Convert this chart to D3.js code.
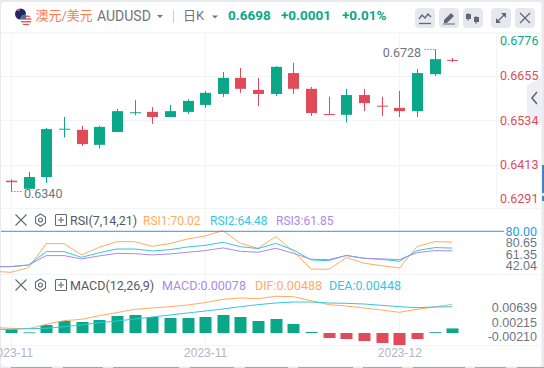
<!DOCTYPE html>
<html>
<head>
<meta charset="utf-8">
<script src="https://cdn.jsdelivr.net/npm/d3@7"></script>
<style>
  body { margin: 0; background: #fff; }
  svg { display: block; font-family: Roboto, "Noto Sans CJK SC", sans-serif; }
</style>
</head>
<body>
<div id="chart"></div>
<script>
const opens  = [0.6369,0.6347,0.6379,0.6509,0.6508,0.6467,0.6502,0.6555,0.6557,0.6543,0.6557,0.6576,0.6606,0.6650,0.6617,0.6606,0.6663,0.6620,0.6551,0.6549,0.6603,0.6574,0.6568,0.6559,0.6660,0.6699];
const highs  = [0.6373,0.6393,0.6513,0.6543,0.6519,0.6519,0.6565,0.6589,0.6570,0.6576,0.6592,0.6614,0.6666,0.6677,0.6650,0.6682,0.6691,0.6625,0.6598,0.6620,0.6620,0.6598,0.6614,0.6674,0.6728,0.6704];
const lows   = [0.6340,0.6345,0.6363,0.6487,0.6464,0.6457,0.6502,0.6548,0.6524,0.6543,0.6551,0.6568,0.6598,0.6609,0.6573,0.6600,0.6606,0.6546,0.6549,0.6528,0.6559,0.6546,0.6543,0.6543,0.6655,0.6693];
const closes = [0.6365,0.6379,0.6510,0.6511,0.6469,0.6516,0.6559,0.6556,0.6543,0.6559,0.6587,0.6609,0.6650,0.6620,0.6606,0.6680,0.6620,0.6554,0.6549,0.6603,0.6581,0.6572,0.6559,0.6663,0.6701,0.6698];

// line series start one candle left of the visible ones
const rsi1 = [43.0,42.04,46.4,68.6,68.6,58.1,65.2,70.4,70.4,66.1,68.6,72.9,75.7,80.65,68.9,64.3,75.1,61.2,45.1,44.8,55.6,50.4,48.2,46.0,65.8,70.4,70.02];
const rsi2 = [47.3,47.3,48.8,61.2,61.2,55.9,60.2,63.6,63.6,61.8,63.0,65.5,67.0,69.8,65.8,64.0,68.9,62.7,53.5,52.8,57.8,55.0,54.1,52.2,62.1,64.9,64.48];
const rsi3 = [47.3,47.3,48.8,57.5,57.5,54.4,57.2,59.6,59.3,58.1,59.0,60.6,62.1,64.6,61.5,60.6,64.3,59.6,54.1,53.8,57.5,55.0,54.4,53.8,60.2,62.1,61.85];
const dif  = [0.00096,0.00079,0.00074,0.00147,0.0021,0.00232,0.00295,0.00346,0.00403,0.00425,0.00448,0.00476,0.00516,0.00573,0.00595,0.00584,0.00624,0.00618,0.0055,0.00482,0.00459,0.00425,0.00391,0.00352,0.00403,0.00442,0.00488];
const dea  = [0.00062,0.00062,0.00074,0.00079,0.00108,0.00136,0.00176,0.00204,0.00238,0.00272,0.00306,0.0034,0.00374,0.00408,0.00448,0.00482,0.0051,0.00527,0.00527,0.0051,0.00505,0.00493,0.00471,0.00448,0.00431,0.00442,0.00448];
const macd = [0.00062,0.0001,0.00136,0.00204,0.00187,0.00221,0.00289,0.00306,0.00272,0.00255,0.00255,0.00272,0.00306,0.00272,0.00204,0.00238,0.00153,0.00017,-0.00085,-0.00102,-0.00136,-0.0017,-0.00204,-0.00102,0.00014,0.00078];

const priceTicks = [0.6776,0.6655,0.6534,0.6413,0.6291];
const rsiTicks = [80.65,61.35,42.04];
const macdTicks = [0.00639,0.00215,-0.0021];
const dateIdx = [0,11,22];
const dateLabels = ['2023-11','2023-11','2023-12'];

const green = '#0aa889', red = '#e04b5a', gridCol = '#f3f4f7', grey = '#6f7480';
const orange = '#ffab62', cyan = '#35c6e2', purple = '#a98be9', iconCol = '#626774';
const axisFont = 12.5;

const svg = d3.select('#chart').append('svg').attr('width', 544).attr('height', 368);

svg.append('rect').attr('width', 544).attr('height', 368).attr('fill', '#e8eaee');
svg.append('rect').attr('x', 1).attr('y', 2).attr('width', 540.5).attr('height', 364.5).attr('rx', 3).attr('fill', '#fff');
svg.append('rect').attr('x', 1).attr('y', 32).attr('width', 540.5).attr('height', 2).attr('fill', '#f6f7f9');

// scales
const x = d3.scaleLinear().domain([0, 25]).range([11, 452.3]);
const y = d3.scaleLinear().domain([0.6655, 0.6534]).range([76, 120.3]);
const yRsi = d3.scaleLinear().domain([80, 42.04]).range([231.3, 272.3]);
const yMacd = d3.scaleLinear().domain([0, 0.00488]).range([333, 304.3]);
const yRsiAxis = d3.scaleLinear().domain([80.65, 42.04]).range([242.7, 265.8]);
const yMacdAxis = d3.scaleLinear().domain([0.00639, -0.0021]).range([307.7, 336.8]);

// grid
const grid = svg.append('g').attr('stroke', gridCol).attr('stroke-width', 1);
dateIdx.forEach(i => grid.append('line').attr('x1', Math.round(x(i)) + 0.5).attr('x2', Math.round(x(i)) + 0.5).attr('y1', 34).attr('y2', 345));
[0.6655, 0.6534, 0.6413].forEach(v => grid.append('line').attr('x1', 1).attr('x2', 541).attr('y1', Math.round(y(v)) + 0.5).attr('y2', Math.round(y(v)) + 0.5));
[208.5, 274.5, 345.5].forEach(p => grid.append('line').attr('x1', 1).attr('x2', 541).attr('y1', p).attr('y2', p));
grid.append('line').attr('x1', 496.5).attr('x2', 496.5).attr('y1', 34).attr('y2', 208);

// right tab
svg.append('polygon').attr('points', '541.5,77 527,85 527,115 541.5,125').attr('fill', '#eeeff4');
svg.append('path').attr('d', 'M537 92 L532 98 L537 104').attr('fill', 'none').attr('stroke', iconCol).attr('stroke-width', 1.6);

// candles
const idx = d3.range(opens.length);
const cw = 11;
svg.append('g').selectAll('line').data(idx).join('line')
  .attr('x1', i => Math.round(x(i)) + 0.5).attr('x2', i => Math.round(x(i)) + 0.5)
  .attr('y1', i => y(highs[i])).attr('y2', i => y(lows[i]))
  .attr('stroke', i => closes[i] >= opens[i] ? green : red);
svg.append('g').selectAll('rect').data(idx).join('rect')
  .attr('x', i => Math.round(x(i)) + 0.5 - cw / 2)
  .attr('width', cw)
  .attr('y', i => y(Math.max(opens[i], closes[i])))
  .attr('height', i => Math.max(1, Math.abs(y(opens[i]) - y(closes[i]))))
  .attr('fill', i => closes[i] >= opens[i] ? green : red);

// high / low callouts
function callout(i, v, label, side) {
  const px = x(i), py = Math.round(y(v)) + 0.5;
  const x2 = side === 'left' ? px - 12 : px + 12;
  svg.append('line').attr('x1', px).attr('x2', x2).attr('y1', py).attr('y2', py)
    .attr('stroke', '#8a8e98').attr('stroke-dasharray', '1.5 1.5');
  svg.append('text').attr('x', side === 'left' ? x2 - 1.5 : x2 + 1)
    .attr('y', py + (side === 'left' ? 3 : 2)).attr('dy', '.35em')
    .attr('text-anchor', side === 'left' ? 'end' : 'start')
    .attr('font-size', axisFont).attr('fill', grey).text(label);
}
callout(24, 0.6728, '0.6728', 'left');
callout(0, 0.6340, '0.6340', 'right');

// price axis, labels are pushed inside the pane like the original
svg.append('g').selectAll('text').data(priceTicks).join('text')
  .attr('x', 500).attr('y', d => Math.min(199, Math.max(40.5, y(d)))).attr('dy', '.35em')
  .attr('font-size', axisFont).attr('fill', (d, i) => i === 0 ? green : red).text(d => d.toFixed(4));

// RSI
const lineX = (d, i) => x(i - 1);
const rsiLine = d3.line().x(lineX).y(d => yRsi(d));
[[rsi1, orange], [rsi2, cyan], [rsi3, purple]].forEach(([s, c]) => {
  svg.append('path').datum(s).attr('d', rsiLine).attr('fill', 'none').attr('stroke', c).attr('stroke-width', 1);
});
svg.append('line').attr('x1', 1).attr('x2', 504).attr('y1', yRsi(80)).attr('y2', yRsi(80)).attr('stroke', '#2c98f0');
svg.append('text').attr('x', 537).attr('y', yRsi(80)).attr('dy', '.35em').attr('text-anchor', 'end')
  .attr('font-size', axisFont).attr('fill', '#2c98f0').text('80.00');

const rsiAxis = svg.append('g').attr('transform', 'translate(537,0)')
  .call(d3.axisLeft(yRsiAxis).tickValues(rsiTicks).tickFormat(d3.format('.2f')).tickSize(0).tickPadding(0));
rsiAxis.select('.domain').remove();
rsiAxis.selectAll('text').attr('font-size', axisFont).attr('font-family', null).attr('fill', grey);

// MACD
const band = 12;
svg.append('g').selectAll('rect').data(macd).join('rect')
  .attr('x', (d, i) => Math.round(x(i)) + 0.5 - band / 2)
  .attr('width', band)
  .attr('y', d => d >= 0 ? yMacd(d) : yMacd(0))
  .attr('height', d => Math.max(0.8, Math.abs(yMacd(d) - yMacd(0))))
  .attr('fill', d => d >= 0 ? green : red);
const macdLine = d3.line().x(lineX).y(d => yMacd(d));
[[dif, orange], [dea, cyan]].forEach(([s, c]) => {
  svg.append('path').datum(s).attr('d', macdLine).attr('fill', 'none').attr('stroke', c).attr('stroke-width', 1);
});

const macdAxis = svg.append('g').attr('transform', 'translate(537,0)')
  .call(d3.axisLeft(yMacdAxis).tickValues(macdTicks).tickFormat(d3.format('.5f')).tickSize(0).tickPadding(0));
macdAxis.select('.domain').remove();
macdAxis.selectAll('text').attr('font-size', axisFont).attr('font-family', null).attr('fill', grey)
  .text(d => d.toFixed(5));

// dates
const dateAxis = svg.append('g').attr('transform', 'translate(0,345)')
  .call(d3.axisBottom(x).tickValues(dateIdx).tickFormat((d, i) => dateLabels[i]).tickSize(0).tickPadding(3));
dateAxis.select('.domain').remove();
dateAxis.selectAll('text').attr('font-size', 12).attr('font-family', null).attr('fill', '#b3b4c0');

// bottom strip
const strip = [[11,41],[63,40],[113,66],[190,44],[245,43],[298,55],[363,39],[413,52],[475,31],[517,27]];
svg.append('g').selectAll('rect').data(strip).join('rect')
  .attr('x', d => d[0]).attr('y', 367).attr('width', d => d[1]).attr('height', 1).attr('fill', '#c8a668');

// right edge sliver
svg.append('rect').attr('x', 542).attr('y', 165).attr('width', 2).attr('height', 28).attr('fill', '#4a80c8');
svg.append('rect').attr('x', 542).attr('y', 196).attr('width', 2).attr('height', 5).attr('fill', '#4a80c8');

// header
const defs = svg.append('defs');
defs.append('clipPath').attr('id', 'us').append('circle').attr('cx', 26).attr('cy', 20).attr('r', 5.5);
defs.append('clipPath').attr('id', 'au').append('circle').attr('cx', 20.5).attr('cy', 14).attr('r', 5.5);
const au = svg.append('g').attr('clip-path', 'url(#au)');
au.append('rect').attr('x', 14).attr('y', 8).attr('width', 13).attr('height', 12).attr('fill', '#1c2a66');
au.append('rect').attr('x', 15).attr('y', 9).attr('width', 5).attr('height', 2).attr('fill', '#d8485a');
const us = svg.append('g').attr('clip-path', 'url(#us)');
us.append('rect').attr('x', 20).attr('y', 14).attr('width', 12).attr('height', 12).attr('fill', '#fff');
d3.range(0, 4).forEach(k => us.append('rect').attr('x', 20).attr('y', 15.5 + k * 2.8).attr('width', 12).attr('height', 1.4).attr('fill', '#e0505f'));
us.append('rect').attr('x', 20).attr('y', 14).attr('width', 6).attr('height', 5).attr('fill', '#5a6a9c');

function label(px, py, str, size, fill, weight) {
  svg.append('text').attr('x', px).attr('y', py).attr('dy', '.35em')
    .attr('font-size', size).attr('fill', fill).attr('font-weight', weight || 400).text(str);
}
label(35.5, 15.5, '澳元/美元', 13, '#ff7a4d');
label(97, 16.5, 'AUDUSD', 14, grey);
svg.append('path').attr('d', 'M157 15 h6 l-3 3 z').attr('fill', grey);
svg.append('line').attr('x1', 173.5).attr('x2', 173.5).attr('y1', 10).attr('y2', 23).attr('stroke', '#c9ccd4');
label(183, 15.5, '日K', 13, grey);
svg.append('path').attr('d', 'M212 15.5 h6 l-3 3 z').attr('fill', grey);
label(228, 15, '0.6698', 13.5, green, 700);
label(281, 15, '+0.0001', 13.5, green, 700);
label(342, 15, '+0.01%', 13.5, green, 700);

// toolbar buttons
[415, 439, 463, 491, 515].forEach(bx => {
  svg.append('rect').attr('x', bx).attr('y', 8).attr('width', 20).attr('height', 20).attr('rx', 4).attr('fill', '#e6e8ef');
});
const ic = svg.append('g').attr('fill', 'none').attr('stroke', iconCol).attr('stroke-width', 1.3);
ic.append('path').attr('d', 'M419 19 L422 15 L425 18 L428 14 L431 17');
ic.append('path').attr('d', 'M419 23.5 H431');
svg.append('path').attr('d', 'M444 20 L451 13 L454 16 L447 23 H444 Z').attr('fill', iconCol);
svg.append('path').attr('d', 'M443 24 H455').attr('stroke', iconCol);
svg.append('path').attr('d', 'M468 13 V21 M476 16 V24').attr('stroke', iconCol);
svg.append('rect').attr('x', 466).attr('y', 14).attr('width', 5).attr('height', 5).attr('fill', iconCol);
svg.append('rect').attr('x', 474).attr('y', 17).attr('width', 5).attr('height', 5).attr('fill', iconCol);
ic.append('path').attr('d', 'M497 22 L505 14');
svg.append('path').attr('d', 'M501 13 H506 V18 Z M496 23 V18 L501 23 Z').attr('fill', iconCol);
ic.append('path').attr('d', 'M520 13 L530 23 M530 13 L520 23');

// pane titles
function paneIcons(cy) {
  const g = svg.append('g').attr('fill', 'none').attr('stroke', iconCol).attr('stroke-width', 1.1);
  g.append('path').attr('d', `M15.5 ${cy - 5.5} L26.5 ${cy + 5.5} M26.5 ${cy - 5.5} L15.5 ${cy + 5.5}`);
  g.append('path').attr('d', `M40.5 ${cy - 6} L45.5 ${cy - 3} V${cy + 3} L40.5 ${cy + 6} L35.5 ${cy + 3} V${cy - 3} Z`);
  g.append('circle').attr('cx', 40.5).attr('cy', cy).attr('r', 2);
  g.append('rect').attr('x', 55.5).attr('y', cy - 5.5).attr('width', 11).attr('height', 11).attr('rx', 1);
  g.append('path').attr('d', `M58 ${cy} H64 M61 ${cy - 3} V${cy + 3}`);
}
paneIcons(220);
label(70, 220.5, 'RSI(7,14,21)', 12.5, '#55585f');
label(143, 220.5, 'RSI1:70.02', 12, orange);
label(210, 220.5, 'RSI2:64.48', 12, cyan);
label(276, 220.5, 'RSI3:61.85', 12, purple);
paneIcons(285);
label(70, 285.5, 'MACD(12,26,9)', 12.5, '#55585f');
label(162, 285.5, 'MACD:0.00078', 12.5, purple);
label(255, 285.5, 'DIF:0.00488', 12.5, orange);
label(329, 285.5, 'DEA:0.00448', 12.5, cyan);
</script>
</body>
</html>
